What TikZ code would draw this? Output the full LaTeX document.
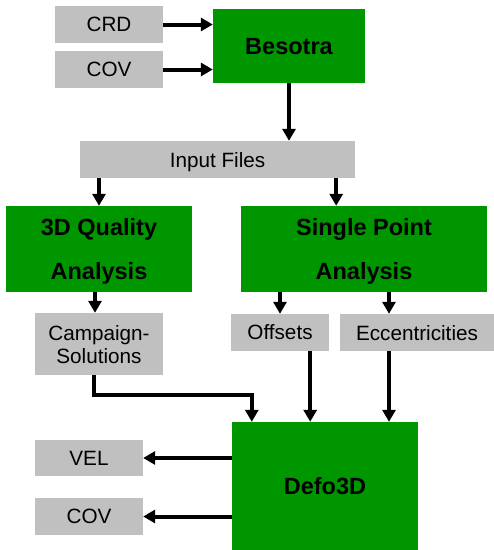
\documentclass[tikz,border=0pt]{standalone}
\usepackage{fontspec}
\setmainfont{Liberation Sans}
\usetikzlibrary{arrows.meta}
\definecolor{boxgreen}{RGB}{0,150,0}
\definecolor{boxgray}{RGB}{192,192,192}
\tikzset{
  greenbox/.style={fill=boxgreen, inner sep=0pt, align=center, text depth=0pt,
    font=\fontsize{23.5}{43.5}\selectfont\bfseries},
  graybox/.style={fill=boxgray, inner sep=0pt, align=center, text depth=0pt,
    font=\fontsize{20.7}{23}\selectfont},
  flow/.style={line width=4pt, -{Triangle[length=12pt,width=13pt]}},
}
\begin{document}
\begin{tikzpicture}[x=1pt,y=-1pt]
    \useasboundingbox (0,0) rectangle (494,550);
    % inputs and Besotra
    \node[graybox, minimum width=108pt, minimum height=37pt] (crd) at (109,24.5) {CRD};
    \node[graybox, minimum width=108pt, minimum height=37pt] (covin) at (109,69.5) {COV};
    \node[greenbox, minimum width=152pt, minimum height=74pt] (besotra) at (289,46) {Besotra};
    \node[graybox, minimum width=275pt, minimum height=37pt] (input) at (217.5,159.5) {Input Files};
    % analyses
    \node[greenbox, minimum width=186pt, minimum height=86pt] (quality) at (99,249) {3D Quality\\Analysis};
    \node[greenbox, minimum width=246pt, minimum height=86pt] (single) at (364,249) {Single Point\\Analysis};
    \node[graybox, minimum width=128pt, minimum height=62pt] (campaign) at (99,344) {Campaign-\\Solutions};
    \node[graybox, minimum width=98pt, minimum height=37pt] (offsets) at (280,332.5) {Offsets};
    \node[graybox, minimum width=154pt, minimum height=37pt] (ecc) at (417,332.5) {Eccentricities};
    % Defo3D and outputs
    \node[greenbox, minimum width=186pt, minimum height=128pt] (defo) at (325,486) {Defo3D};
    \node[graybox, minimum width=108pt, minimum height=36pt] (vel) at (89,458) {VEL};
    \node[graybox, minimum width=108pt, minimum height=37pt] (covout) at (89,516.5) {COV};
    \coordinate (ecctop) at ([xshift=-28pt]ecc.north);
    \coordinate (eccbot) at ([xshift=-28pt]ecc.south);

    \draw[flow] (crd.east) -- (crd.east -| besotra.west);
    \draw[flow] (covin.east) -- (covin.east -| besotra.west);
    \draw[flow] (besotra.south) -- (input.north -| besotra.south);
    \draw[flow] (input.south -| quality.north) -- (quality.north);
    \draw[flow] ([xshift=-19pt]input.south east) -- ([xshift=-19pt]input.south east |- single.north);
    \draw[flow] ([xshift=-4pt]quality.south) -- ([xshift=-4pt]campaign.north);
    \draw[flow] (single.south -| offsets.north) -- (offsets.north);
    \draw[flow] (single.south -| ecctop) -- (ecctop);
    \draw[flow] ([xshift=-5pt]campaign.south) |- ++(0,20) -| ([xshift=20pt]defo.north west);
    \draw[flow] ([xshift=-19pt]offsets.south east) -- ([xshift=-19pt]offsets.south east |- defo.north);
    \draw[flow] (eccbot) -- (eccbot |- defo.north);
    \draw[flow] (defo.west |- vel.east) -- (vel.east);
    \draw[flow] (defo.west |- covout.east) -- (covout.east);
\end{tikzpicture}
\end{document}
